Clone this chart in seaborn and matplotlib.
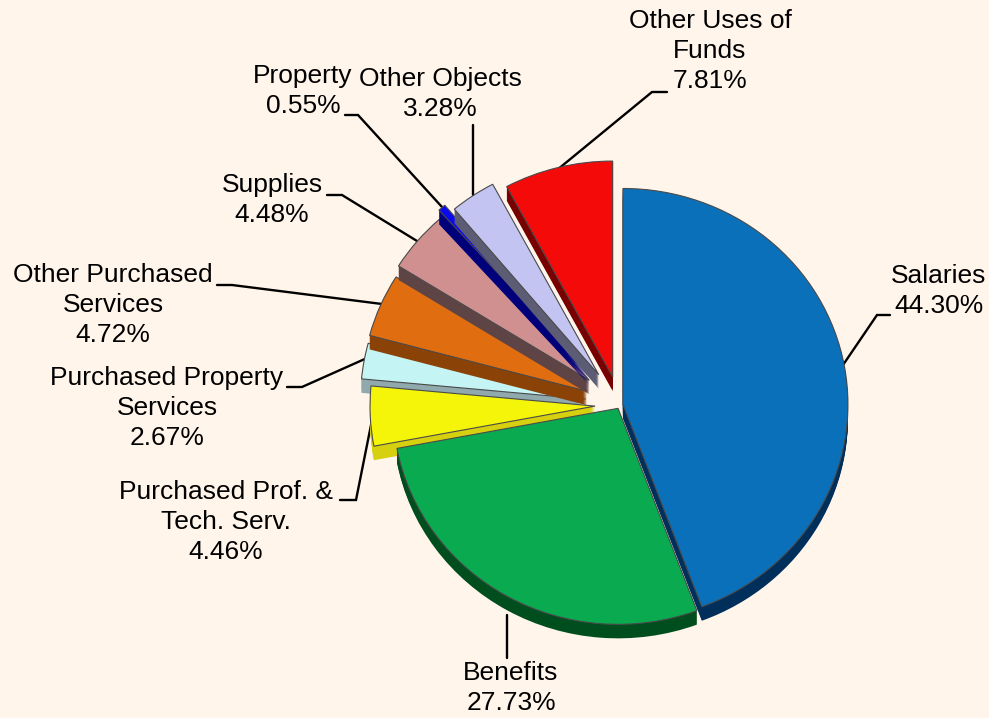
import matplotlib
matplotlib.use("Agg")
import matplotlib.pyplot as plt
import seaborn as sns

# Share of expenditures by object, in percent
categories = ["Salaries", "Benefits", "Purchased Prof. &\nTech. Serv.",
              "Purchased Property\nServices", "Other Purchased\nServices",
              "Supplies", "Property", "Other Objects", "Other Uses of\nFunds"]
shares = [44.30, 27.73, 4.46, 2.67, 4.72, 4.48, 0.55, 3.28, 7.81]

face_colors = ["#0B70BA", "#0AAB50", "#F5F50A", "#C4F4F4", "#E06E10",
               "#D09090", "#0A0AF0", "#C4C4F2", "#F50A0A"]
side_colors = ["#012F5B", "#004D1E", "#D6D00E", "#8FA9AD", "#8A4207",
               "#5E4444", "#00007A", "#5C5C74", "#780000"]

BACKGROUND = "#FFF5EB"
WIDTH, HEIGHT = 989, 718
TILT = 0.96
CENTER = (620, (HEIGHT - 405) / TILT)
RADIUS = 225
DEPTH = 14
pull_out = [3, 4, 25, 35, 36, 40, 47, 38, 30]
stacking = [10, 9, 8, 1, 2, 3, 4, 5, 6]

label_anchor = [(939, 291), (511, 688), (226, 522), (167, 408), (113, 305),
                (272, 200), (303, 91), (440, 94), (710, 51)]
leaders = [[(843, 365), (877, 315), (890, 315)],
           [(507, 615), (507, 658)],
           [(372, 420), (356, 500), (340, 500)],
           [(367, 358), (302, 387), (287, 387)],
           [(382, 304), (232, 285), (217, 285)],
           [(417, 241), (342, 195), (327, 195)],
           [(442, 207), (358, 115), (345, 115)],
           [(473, 195), (473, 125)],
           [(557, 170), (652, 92), (667, 92)]]

sns.set_theme(style="white", rc={"figure.facecolor": BACKGROUND, "axes.facecolor": BACKGROUND})
plt.rcParams["font.family"] = ["Liberation Sans", "DejaVu Sans"]

fig = plt.figure(figsize=(WIDTH / 100, HEIGHT / 100), dpi=100)
ax = fig.add_axes([0, 0, 1, 1])
pie_ax = fig.add_axes([0, 0, 1, 1], facecolor="none")


def draw_pie(y_shift, colors, z_offset, edge, line_width):
    wedges, _ = pie_ax.pie(shares, explode=pull_out, colors=colors, radius=RADIUS,
                           center=(CENTER[0], CENTER[1] - y_shift / TILT), startangle=90,
                           counterclock=False,
                           wedgeprops={"edgecolor": edge, "linewidth": line_width})
    for wedge, rank in zip(wedges, stacking):
        wedge.set_zorder(rank + z_offset)


# The side wall is a stack of dark copies shifted downward, capped by the face
for step in range(DEPTH, 0, -1):
    draw_pie(step, side_colors, 0.1, "none", 0)
draw_pie(0, face_colors, 0.5, "#4A4A4A", 0.8)

# Vertical squash gives the disc its slight tilt
pie_ax.set_aspect("auto")
pie_ax.set_xlim(0, WIDTH)
pie_ax.set_ylim(0, HEIGHT / TILT)
pie_ax.axis("off")

for path in leaders:
    xs = [p[0] for p in path]
    ys = [HEIGHT - p[1] for p in path]
    ax.plot(xs, ys, color="black", lw=1.7, solid_joinstyle="miter")

for name, share, (x, y) in zip(categories, shares, label_anchor):
    ax.text(x, HEIGHT - y, f"{name}\n{share:.2f}%", ha="center", va="center",
            fontsize=19, color="black", linespacing=1.32)

ax.set_xlim(0, WIDTH)
ax.set_ylim(0, HEIGHT)
ax.axis("off")
fig.savefig("out.png", dpi=100, facecolor=BACKGROUND)
